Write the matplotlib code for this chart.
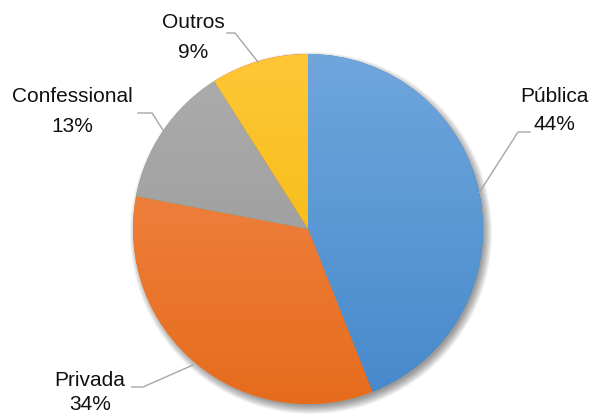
import numpy as np
import matplotlib
matplotlib.use("Agg")
from matplotlib import pyplot as plt
from matplotlib.colors import LinearSegmentedColormap

labels = ["Pública", "Privada", "Confessional", "Outros"]
values = [44, 34, 13, 9]
top_colors = ["#6fa6dc", "#f28b50", "#adadad", "#ffc736"]
bottom_colors = ["#4689cc", "#e66c1c", "#959595", "#eeb600"]

W, H = 591, 416
fig = plt.figure(figsize=(W / 100, H / 100), dpi=100)
ax = fig.add_axes([0, 0, 1, 1])

cx, cy, r = 308, H - 229, 175

# soft shadow below right
for i in range(12):
    c = plt.Circle((cx + 3, cy - 4), r + 6 - i * 0.8, color="black", alpha=0.04, lw=0)
    ax.add_patch(c)

wedges, _ = ax.pie(values, startangle=90, counterclock=False, center=(cx, cy),
                   radius=r, frame=True,
                   wedgeprops=dict(linewidth=0))

# vertical gradient on each slice
grad = np.linspace(0, 1, 256).reshape(-1, 1)
for w, c1, c2 in zip(wedges, top_colors, bottom_colors):
    cmap = LinearSegmentedColormap.from_list("g", [c2, c1])
    im = ax.imshow(grad, cmap=cmap, origin="lower", aspect="auto",
                   extent=(cx - r, cx + r, cy - r, cy + r), zorder=3)
    im.set_clip_path(w)

ax.set_xlim(0, W)
ax.set_ylim(0, H)
ax.set_aspect("equal")
ax.axis("off")

# labels and leader lines (pixel positions)
font = dict(fontsize=15, family="Liberation Sans", color="#111111", ha="center", va="center")
pcts = [f"{v}%" for v in values]
label_pos = [(554, 97, 125), (90, 380, 405), (72, 97, 127), (193, 23, 52)]
leaders = [
    [(530, 132), (518, 132), (479, 193)],
    [(132, 387), (143, 387), (193, 365)],
    [(138, 113), (152, 113), (163, 130)],
    [(227, 33), (235, 33), (258, 62)],
]
for lab, pct, (x, y1, y2), pts in zip(labels, pcts, label_pos, leaders):
    ax.text(x, H - y1, lab, **font)
    ax.text(x, H - y2, pct, **font)
    xs = [p[0] for p in pts]
    ys = [H - p[1] for p in pts]
    ax.plot(xs, ys, color="#a6a6a6", lw=1.0, zorder=4)

fig.savefig("out.png", dpi=100)
